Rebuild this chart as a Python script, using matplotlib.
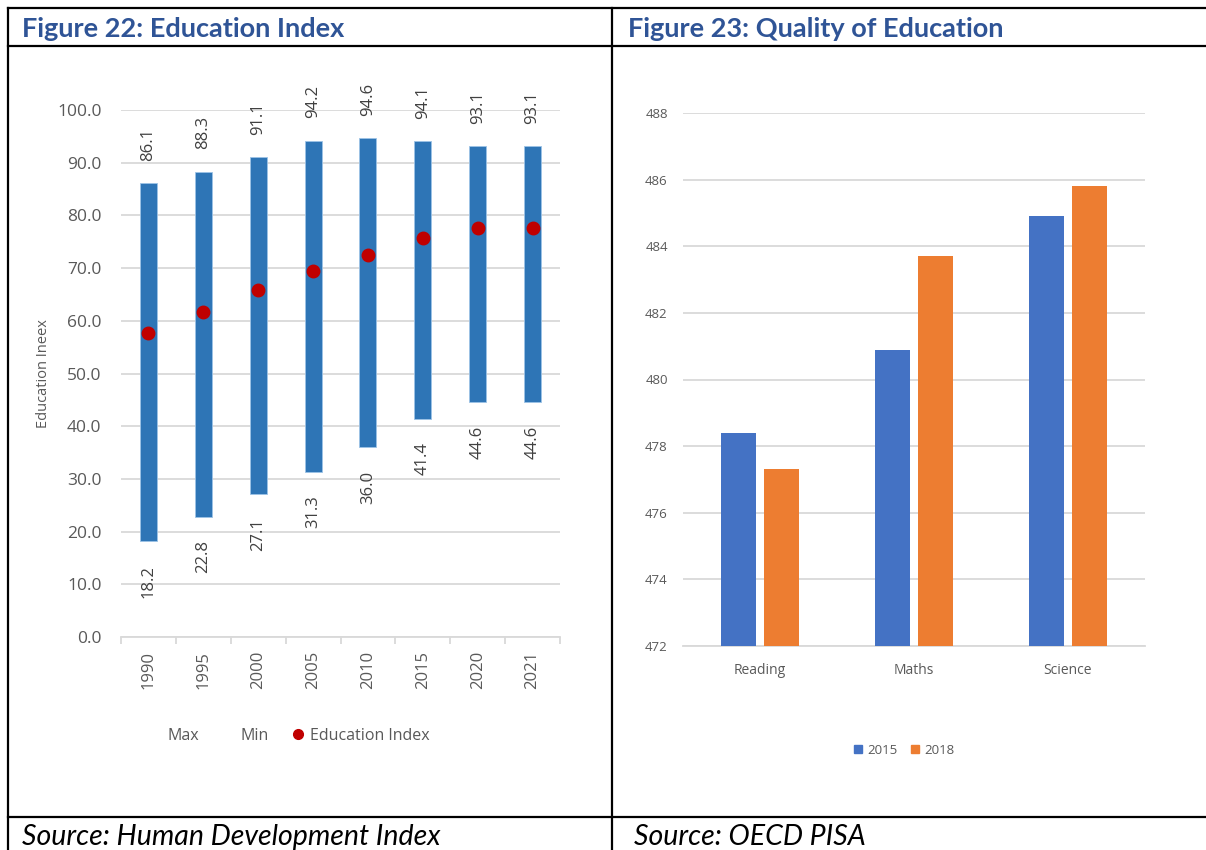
import numpy as np
import matplotlib.pyplot as plt
from matplotlib.lines import Line2D
from matplotlib.patches import Patch

# Figure 22 data
years = ["1990", "1995", "2000", "2005", "2010", "2015", "2020", "2021"]
edu_max = [86.1, 88.3, 91.1, 94.2, 94.6, 94.1, 93.1, 93.1]
edu_min = [18.2, 22.8, 27.1, 31.3, 36.0, 41.4, 44.6, 44.6]
edu_index = [57.7, 61.6, 65.8, 69.4, 72.4, 75.7, 77.7, 77.7]

# Figure 23 data
subjects = ["Reading", "Maths", "Science"]
pisa_2015 = [478.4, 480.9, 484.9]
pisa_2018 = [477.3, 483.7, 485.8]

W, H = 1206, 850
fig = plt.figure(figsize=(W / 100, H / 100), dpi=100)
plt.rcParams['font.family'] = ['Open Sans', 'DejaVu Sans']

grey_txt = "#595959"
grid_col = "#D9D9D9"
title_col = "#2F5496"


def fx(px):
    return px / W


def fy(py):
    return 1 - py / H


# table borders
for (x0, y0, x1, y1) in [(8, 8, W, 8), (8, 46, W, 46), (8, 817, W, 817),
                         (8, 8, 8, H), (612, 8, 612, H)]:
    fig.add_artist(Line2D([fx(x0), fx(x1)], [fy(y0), fy(y1)], color="black", lw=1.6))

fig.text(fx(22), fy(29), "Figure 22: Education Index", color=title_col, fontsize=19.5,
         fontweight="bold", family=["Lato", "DejaVu Sans"], va="center")
fig.text(fx(628), fy(29), "Figure 23: Quality of Education", color=title_col, fontsize=19.5,
         fontweight="bold", family=["Lato", "DejaVu Sans"], va="center")
fig.text(fx(22), fy(837), "Source: Human Development Index", fontsize=20.5, style="italic",
         family=["Lato", "DejaVu Sans"], va="center")
fig.text(fx(634), fy(837), "Source: OECD PISA", fontsize=20.5, style="italic",
         family=["Lato", "DejaVu Sans"], va="center")

# ---- left chart ----
ax1 = fig.add_axes([fx(121), fy(637), fx(560 - 121), (637 - 110) / H])
x = np.arange(len(years))
heights = [a - b for a, b in zip(edu_max, edu_min)]
ax1.bar(x, heights, bottom=edu_min, width=0.31, color="#2E75B6",
        edgecolor="#9DC3E6", linewidth=0.6, zorder=3)
ax1.plot(x, edu_index, "o", color="#C00000", markersize=9, zorder=4)
for xi, hi, lo in zip(x, edu_max, edu_min):
    ax1.annotate(f"{hi:.1f}", (xi, hi), xytext=(0, 16), textcoords="offset points",
                 rotation=90, ha="center", va="bottom", fontsize=12, color="#404040")
    ax1.annotate(f"{lo:.1f}", (xi, lo), xytext=(0, -17), textcoords="offset points",
                 rotation=90, ha="center", va="top", fontsize=12, color="#404040")
ax1.set_ylim(0, 100)
ax1.set_xlim(-0.5, len(years) - 0.5)
ax1.set_yticks(np.arange(0, 101, 10))
ax1.set_yticklabels([f"{v:.1f}" for v in np.arange(0, 101, 10)])
ax1.yaxis.grid(True, color=grid_col, lw=1.3, zorder=0)
ax1.set_xticks(x)
ax1.set_xticklabels(years, rotation=90)
ax1.set_xticks(np.arange(-0.5, len(years)), minor=True)
ax1.tick_params(axis="x", which="major", length=0, pad=10, labelsize=12, labelcolor=grey_txt)
ax1.tick_params(axis="x", which="minor", length=5, color=grid_col, width=1.3)
ax1.tick_params(axis="y", length=0, pad=14, labelsize=12.5, labelcolor=grey_txt)
for s in ["top", "right", "left"]:
    ax1.spines[s].set_visible(False)
ax1.spines["bottom"].set_color(grid_col)
ax1.spines["bottom"].set_linewidth(1.3)
ax1.set_ylabel("Education Ineex", fontsize=10.5, color=grey_txt)
ax1.yaxis.set_label_coords(-0.16, 0.5)

handles = [Line2D([], [], ls="none"), Line2D([], [], ls="none"),
           Line2D([], [], ls="none", marker="o", color="#C00000", markersize=7)]
fig.legend(handles, ["Max", "Min", "Education Index"], loc="center",
           bbox_to_anchor=(fx(290), fy(736)), ncol=3, frameon=False, fontsize=11.5,
           handlelength=0.7, handletextpad=0.4, columnspacing=1.5, labelcolor=grey_txt)

# ---- right chart ----
ax2 = fig.add_axes([fx(683), fy(646), fx(1145 - 683), (646 - 113) / H])
x2 = np.arange(len(subjects))
ax2.bar(x2 - 0.14, pisa_2015, width=0.227, color="#4472C4", zorder=3, label="2015")
ax2.bar(x2 + 0.14, pisa_2018, width=0.227, color="#ED7D31", zorder=3, label="2018")
ax2.set_ylim(472, 488)
ax2.set_xlim(-0.5, len(subjects) - 0.5)
ax2.set_yticks(np.arange(472, 489, 2))
ax2.yaxis.grid(True, color=grid_col, lw=1.3, zorder=0)
ax2.set_xticks(x2)
ax2.set_xticklabels(subjects)
ax2.tick_params(axis="x", length=0, pad=12, labelsize=10, labelcolor=grey_txt)
ax2.tick_params(axis="y", length=0, pad=11, labelsize=9.5, labelcolor=grey_txt)
for s in ["top", "right", "left"]:
    ax2.spines[s].set_visible(False)
ax2.spines["bottom"].set_color(grid_col)
ax2.spines["bottom"].set_linewidth(1.3)

fig.legend(handles=[Patch(color="#4472C4"), Patch(color="#ED7D31")], labels=["2015", "2018"],
           loc="center", bbox_to_anchor=(fx(904), fy(750)), ncol=2, frameon=False,
           fontsize=9.5, handlelength=0.6, handleheight=0.6, handletextpad=0.4,
           columnspacing=1.0, labelcolor=grey_txt)

fig.savefig("out.png", dpi=100)
